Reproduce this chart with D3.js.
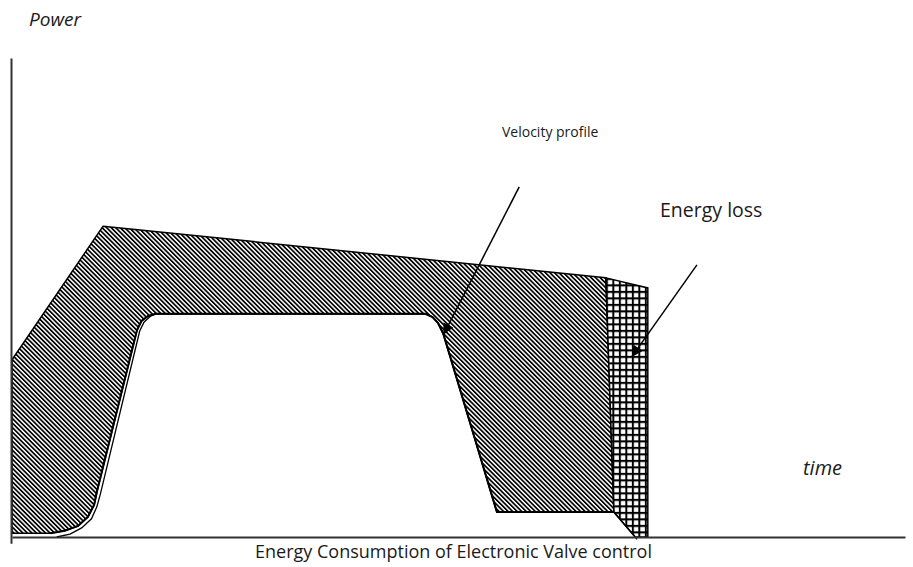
<!DOCTYPE html>
<html>
<head>
<meta charset="utf-8">
<script src="https://d3js.org/d3.v7.min.js"></script>
<style>
  body { margin: 0; background: #fff; }
  text { font-family: "Open Sans", "Noto Sans", sans-serif; fill: #1a1a1a; }
</style>
</head>
<body>
<div id="chart"></div>
<script>

// upper power curve (time, power), in percent of the axes
var power_top = [[0, 37.0], [10.2, 64.9], [66.5, 54.1], [71.2, 52.0]]

// lower edge of the hatched area, following the velocity profile
var velocity_edge = [[0, 0.8], [4.3, 0.8], [5.9, 1.3], [7.4, 2.3], [8.5, 4.2], [9.2, 6.7],
  [9.5, 9.4], [14.0, 43.2], [14.5, 45.1], [15.2, 46.1], [16.1, 46.6], [46.3, 46.6],
  [47.1, 45.9], [47.7, 44.7], [48.3, 42.4], [54.3, 5.2], [67.4, 5.2]]

// velocity profile line drawn on its own
var velocity_line = [[5.0, 0], [6.5, 0.6], [7.8, 1.9], [8.9, 3.8], [9.5, 6.3], [9.9, 9.0],
  [14.3, 43.0], [14.8, 44.9], [15.5, 46.1], [16.1, 46.6], [46.3, 46.6], [47.1, 45.9],
  [47.7, 44.7], [48.3, 42.4], [54.3, 5.2], [67.4, 5.2], [70.0, -0.5]]

// energy loss block
var energy_loss = [[66.5, 54.1], [71.2, 52.0], [71.2, 0], [69.8, 0], [67.4, 5.2]]

// arrows: from, to
var arrows = [
  {name: "velocity", from: [56.8, 73.1], to: [48.3, 42.2]},
  {name: "loss", from: [76.7, 56.8], to: [69.4, 37.6]}
]

var labels = ["Power", "time", "Velocity profile", "Energy loss",
  "Energy Consumption of Electronic Valve control"]

var width = 913
var height = 567

var svg = d3.select("#chart").append("svg")
  .attr("width", width)
  .attr("height", height)

var x = d3.scaleLinear().domain([0, 100]).range([12, 905])
var y = d3.scaleLinear().domain([0, 100]).range([537, 58])

var line = d3.line()
  .x(function(d){ return x(d[0]) })
  .y(function(d){ return y(d[1]) })

var defs = svg.append("defs")

// diagonal hatch
var hatch = defs.append("pattern")
  .attr("id", "hatch")
  .attr("patternUnits", "userSpaceOnUse")
  .attr("width", 3.2)
  .attr("height", 3.2)
  .attr("patternTransform", "rotate(-45)")
hatch.append("rect")
  .attr("width", 3.2).attr("height", 3.2).attr("fill", "#fff")
hatch.append("rect")
  .attr("width", 1.7).attr("height", 3.2).attr("fill", "#000")

// square grid
var grid = defs.append("pattern")
  .attr("id", "grid")
  .attr("patternUnits", "userSpaceOnUse")
  .attr("x", x(66.5))
  .attr("y", y(54.1))
  .attr("width", 6.5)
  .attr("height", 6.5)
grid.append("rect")
  .attr("width", 6.5).attr("height", 6.5).attr("fill", "#fff")
grid.append("path")
  .attr("d", "M0,1H6.5M1,0V6.5")
  .attr("stroke", "#000")
  .attr("stroke-width", 2)

defs.append("marker")
  .attr("id", "head")
  .attr("viewBox", "0 0 10 10")
  .attr("refX", 10)
  .attr("refY", 5)
  .attr("markerWidth", 16)
  .attr("markerHeight", 11)
  .attr("markerUnits", "userSpaceOnUse")
  .attr("orient", "auto")
  .append("path")
  .attr("d", "M0,0L10,5L0,10z")
  .attr("fill", "#000")

// hatched energy area: top curve then back along the velocity edge
var hatch_outline = power_top.slice(0, 3).concat(velocity_edge.slice().reverse())
svg.append("path")
  .attr("d", line(hatch_outline) + "Z")
  .attr("fill", "url(#hatch)")
  .attr("stroke", "#000")
  .attr("stroke-width", 1.5)
  .attr("stroke-linejoin", "round")

svg.append("path")
  .attr("d", line(energy_loss) + "Z")
  .attr("fill", "url(#grid)")
  .attr("stroke", "#000")
  .attr("stroke-width", 1.5)

// inner edge drawn heavier
svg.append("path")
  .attr("d", line(velocity_edge.slice(1)))
  .attr("fill", "none")
  .attr("stroke", "#000")
  .attr("stroke-width", 2)

svg.append("path")
  .attr("d", line(velocity_line))
  .attr("fill", "none")
  .attr("stroke", "#000")
  .attr("stroke-width", 1.3)

// axes, no ticks
svg.append("g")
  .attr("transform", "translate(0," + y(0) + ")")
  .call(d3.axisBottom(x).tickValues([]).tickSizeOuter(0))
  .select(".domain").attr("stroke", "#333").attr("stroke-width", 2)

var y_axis = y.copy().domain([-1.3, 100]).range([y(-1.3), y(100)])
svg.append("g")
  .attr("transform", "translate(" + (x(0) - 1) + ",0)")
  .call(d3.axisLeft(y_axis).tickValues([]).tickSizeOuter(0))
  .select(".domain").attr("stroke", "#333").attr("stroke-width", 2)

// arrows
svg.selectAll(".arrow")
  .data(arrows)
  .enter().append("line")
  .attr("class", "arrow")
  .attr("x1", function(d){ return x(d.from[0]) })
  .attr("y1", function(d){ return y(d.from[1]) })
  .attr("x2", function(d){ return x(d.to[0]) })
  .attr("y2", function(d){ return y(d.to[1]) })
  .attr("stroke", "#000")
  .attr("stroke-width", 1.5)
  .attr("marker-end", "url(#head)")

// labels
svg.append("text")
  .attr("x", 81).attr("y", 26)
  .attr("text-anchor", "end")
  .style("font-size", "19px").style("font-style", "italic")
  .text(labels[0])

svg.append("text")
  .attr("x", 803).attr("y", 475)
  .style("font-size", "20px").style("font-style", "italic")
  .text(labels[1])

svg.append("text")
  .attr("x", 502).attr("y", 137)
  .style("font-size", "14px")
  .text(labels[2])

svg.append("text")
  .attr("x", 660).attr("y", 217)
  .style("font-size", "19.5px")
  .text(labels[3])

svg.append("text")
  .attr("x", 255).attr("y", 558)
  .style("font-size", "18px")
  .text(labels[4])

</script>
</body>
</html>
